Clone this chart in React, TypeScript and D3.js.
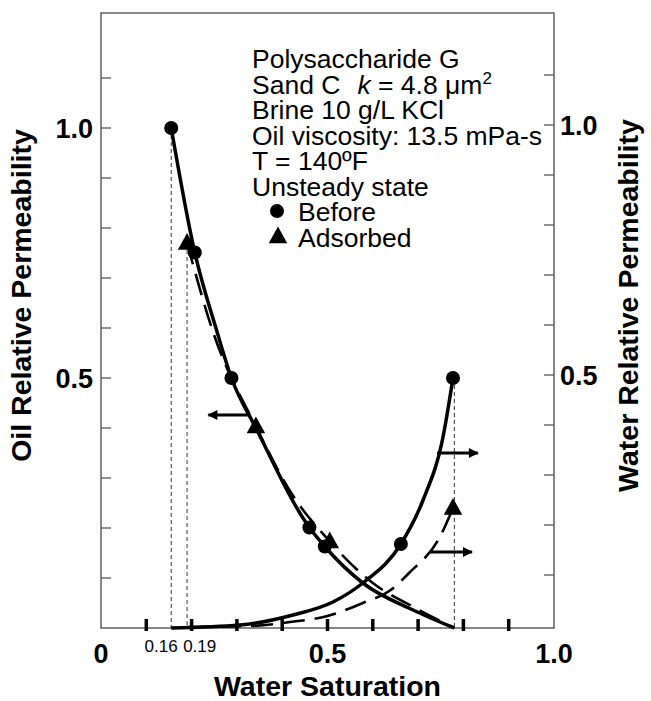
import * as d3 from 'd3'

// water saturation ticks / labels
const xTicks = [0.1, 0.2, 0.3, 0.4, 0.5, 0.6, 0.7, 0.8, 0.9]
const xLabels = [0, 0.5, 1.0]
const krTicks = [0.1, 0.2, 0.3, 0.4, 0.5, 0.6, 0.7, 0.8, 0.9, 1.0, 1.1]
const krLabels = [0.5, 1.0]

// measured points
const oilBeforeSw = [0.155, 0.207, 0.288, 0.46, 0.494]
const oilBeforeKr = [1.0, 0.751, 0.5, 0.201, 0.163]
const oilAdsSw = [0.19, 0.342, 0.505]
const oilAdsKr = [0.77, 0.403, 0.173]
const watBeforeSw = [0.662, 0.777]
const watBeforeKr = [0.168, 0.5]
const watAdsSw = [0.777]
const watAdsKr = [0.24]

// fitted curves
const oilBeforeCurve: [number, number][] = [
  [0.155, 1.0], [0.207, 0.751], [0.255, 0.596], [0.288, 0.5], [0.342, 0.4],
  [0.46, 0.201], [0.494, 0.163], [0.578, 0.09], [0.689, 0.036], [0.78, 0],
]
const oilAdsCurve: [number, number][] = [
  [0.19, 0.77], [0.25, 0.585], [0.342, 0.403], [0.42, 0.27], [0.505, 0.173],
  [0.6, 0.09], [0.69, 0.042], [0.78, 0],
]
const watBeforeCurve: [number, number][] = [
  [0.155, 0], [0.307, 0.006], [0.424, 0.026], [0.512, 0.052], [0.578, 0.09],
  [0.662, 0.168], [0.711, 0.256], [0.755, 0.382], [0.777, 0.5],
]
const watAdsCurve: [number, number][] = [
  [0.19, 0.002], [0.33, 0.004], [0.417, 0.012], [0.5, 0.024], [0.578, 0.05],
  [0.638, 0.075], [0.68, 0.11], [0.748, 0.182], [0.777, 0.24],
]

// dotted end-point guides: [Sw, kr]
const guides: [number, number][] = [[0.155, 1.0], [0.19, 0.77], [0.78, 0.5]]

// arrows showing which axis a curve belongs to: [Sw from, Sw to, kr]
const arrows: [number, number, number][] = [
  [0.33, 0.237, 0.426],
  [0.742, 0.832, 0.35],
  [0.726, 0.819, 0.152],
]

const legendLines = [
  'Polysaccharide G',
  'SAND',
  'Brine 10 g/L KCl',
  'Oil viscosity: 13.5 mPa-s',
  'T = 140ºF',
  'Unsteady state',
]

const FONT = "'Liberation Sans', Arial, Helvetica, sans-serif"

export default function App() {
  const W = 651
  const H = 701
  const x = d3.scaleLinear().domain([0, 1]).range([101, 554])
  const y = d3.scaleLinear().domain([0, 1]).range([628, 128])
  const yR = d3.scaleLinear().domain([0, 1]).range([625, 125])
  const yTop = y(1.23)

  const line = d3
    .line<[number, number]>()
    .x((d) => x(d[0]))
    .y((d) => y(d[1]))
    .curve(d3.curveMonotoneX)

  const tri = (cx: number, cy: number, s: number) =>
    `M${cx},${cy - s * 0.62} L${cx + s * 0.58},${cy + s * 0.42} L${cx - s * 0.58},${cy + s * 0.42} Z`

  const lx = 252
  const ly0 = 68
  const lstep = 25.5

  return (
    <svg
      width={W}
      height={H}
      style={{ position: 'absolute', left: 0, top: 0, background: '#fff' }}
      fontFamily={FONT}
    >
      <defs>
        <marker
          id="ah"
          viewBox="0 0 10 10"
          refX="9"
          refY="5"
          markerWidth="12"
          markerHeight="10"
          markerUnits="userSpaceOnUse"
          orient="auto"
        >
          <path d="M0,0 L10,5 L0,10 Z" fill="#000" />
        </marker>
      </defs>
      <rect width={W} height={H} fill="#fff" />

      {/* frame */}
      <rect
        x={x(0)}
        y={yTop}
        width={x(1) - x(0)}
        height={y(0) - yTop}
        fill="none"
        stroke="#555"
        strokeWidth={1.4}
      />

      {/* left ticks */}
      {krTicks.map((t) => (
        <line key={'l' + t} x1={x(0)} x2={x(0) + 10} y1={y(t)} y2={y(t)} stroke="#555" strokeWidth={1.3} />
      ))}
      {/* right ticks */}
      {krTicks.map((t) => (
        <line key={'r' + t} x1={x(1) - 10} x2={x(1)} y1={yR(t)} y2={yR(t)} stroke="#555" strokeWidth={1.3} />
      ))}
      {/* bottom ticks */}
      {xTicks.map((t) => (
        <line key={'b' + t} x1={x(t)} x2={x(t)} y1={y(0) - 9} y2={y(0) + 3} stroke="#000" strokeWidth={3.5} />
      ))}

      {/* x labels */}
      {xLabels.map((t) => (
        <text key={'xl' + t} x={x(t)} y={663} textAnchor="middle" fontSize={27} fontWeight="bold">
          {t === 0 ? '0' : t.toFixed(1)}
        </text>
      ))}
      <text x={(x(0.155) + x(0.19)) / 2 - 1.5} y={652} textAnchor="end" fontSize={17}>0.16</text>
      <text x={(x(0.155) + x(0.19)) / 2 + 4} y={652} textAnchor="start" fontSize={17}>0.19</text>
      <text x={(x(0) + x(1)) / 2} y={696} textAnchor="middle" fontSize={28.5} fontWeight="bold">
        Water Saturation
      </text>

      {/* y labels */}
      {krLabels.map((t) => (
        <text key={'yl' + t} x={93} y={y(t)} dy="0.36em" textAnchor="end" fontSize={27} fontWeight="bold">
          {t.toFixed(1)}
        </text>
      ))}
      {krLabels.map((t) => (
        <text key={'yr' + t} x={560} y={yR(t)} dy="0.36em" textAnchor="start" fontSize={27} fontWeight="bold">
          {t.toFixed(1)}
        </text>
      ))}
      <text
        transform={`translate(31,${y(0.665)}) rotate(-90)`}
        textAnchor="middle"
        fontSize={28.5}
        fontWeight="bold"
      >
        Oil Relative Permeability
      </text>
      <text
        transform={`translate(638,${y(0.645)}) rotate(-90)`}
        textAnchor="middle"
        fontSize={28.5}
        fontWeight="bold"
      >
        Water Relative Permeability
      </text>

      {/* guides */}
      {guides.map(([sw, kr]) => (
        <line
          key={'g' + sw}
          x1={x(sw)}
          x2={x(sw)}
          y1={y(kr)}
          y2={y(0)}
          stroke="#333"
          strokeWidth={1}
          strokeDasharray="4,3"
        />
      ))}

      {/* curves */}
      <path d={line(oilBeforeCurve) ?? ''} fill="none" stroke="#000" strokeWidth={3.5} />
      <path d={line(oilAdsCurve) ?? ''} fill="none" stroke="#000" strokeWidth={2.6} strokeDasharray="22,10" />
      <path d={line(watBeforeCurve) ?? ''} fill="none" stroke="#000" strokeWidth={3.5} />
      <path d={line(watAdsCurve) ?? ''} fill="none" stroke="#000" strokeWidth={2.6} strokeDasharray="22,10" />

      {/* markers */}
      {oilBeforeSw.map((sw, i) => (
        <circle key={'ob' + i} cx={x(sw)} cy={y(oilBeforeKr[i])} r={7} fill="#000" />
      ))}
      {watBeforeSw.map((sw, i) => (
        <circle key={'wb' + i} cx={x(sw)} cy={y(watBeforeKr[i])} r={7} fill="#000" />
      ))}
      {oilAdsSw.map((sw, i) => (
        <path key={'oa' + i} d={tri(x(sw), y(oilAdsKr[i]), 16)} fill="#000" />
      ))}
      {watAdsSw.map((sw, i) => (
        <path key={'wa' + i} d={tri(x(sw), y(watAdsKr[i]), 16)} fill="#000" />
      ))}

      {/* arrows */}
      {arrows.map(([a, b, kr], i) => (
        <line
          key={'a' + i}
          x1={x(a)}
          x2={x(b)}
          y1={y(kr)}
          y2={y(kr)}
          stroke="#000"
          strokeWidth={3}
          markerEnd="url(#ah)"
        />
      ))}

      {/* legend */}
      <g fontSize={26.5}>
        {legendLines.map((s, i) =>
          s === 'SAND' ? (
            <text key={i} x={lx} y={ly0 + i * lstep}>
              Sand C
              <tspan dx={17} fontStyle="italic">k</tspan>
              <tspan> = 4.8 μm</tspan>
              <tspan fontSize={17} dy={-10}>2</tspan>
            </text>
          ) : (
            <text key={i} x={lx} y={ly0 + i * lstep}>
              {s}
            </text>
          ),
        )}
        <circle cx={277} cy={ly0 + 6 * lstep - 10} r={7} fill="#000" />
        <text x={298} y={ly0 + 6 * lstep}>Before</text>
        <path d={tri(278, ly0 + 7 * lstep - 10, 16)} fill="#000" />
        <text x={298} y={ly0 + 7 * lstep}>Adsorbed</text>
      </g>
    </svg>
  )
}
